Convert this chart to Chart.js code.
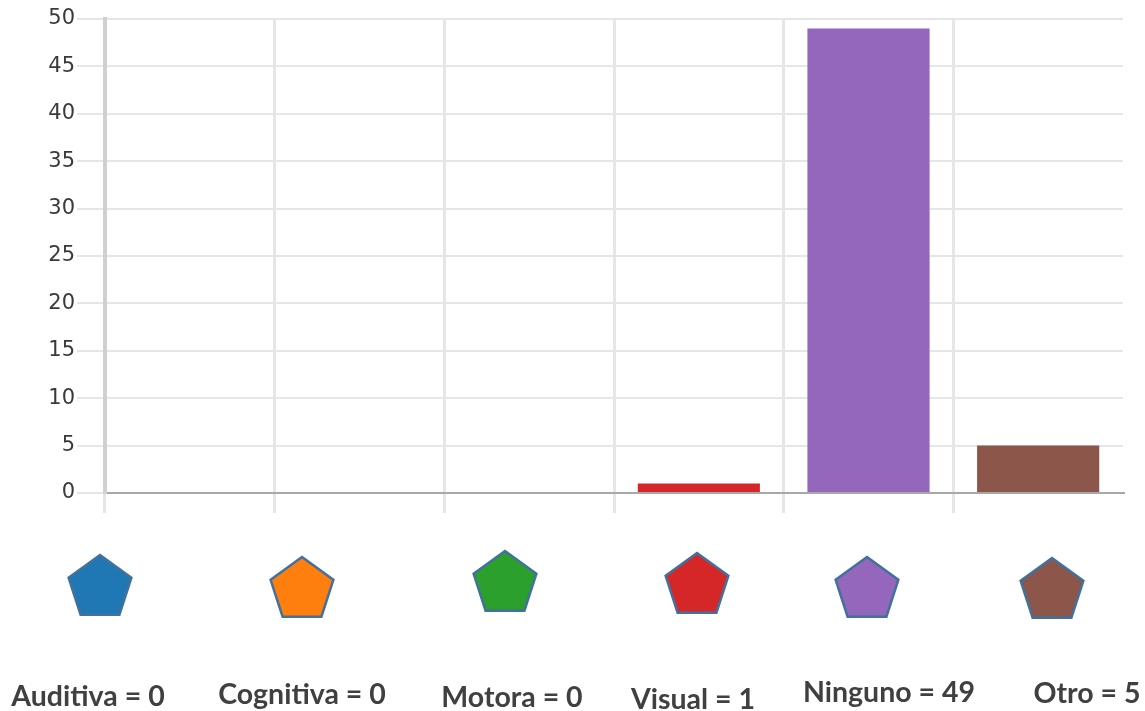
<!DOCTYPE html>
<html>
<head>
<meta charset="utf-8">
<script src="https://cdn.jsdelivr.net/npm/chart.js@4"></script>
<style>
  html, body { margin: 0; padding: 0; background: #fff; }
  #wrap { position: relative; width: 1145px; height: 711px; }
</style>
</head>
<body>
<div id="wrap"><canvas id="chart" width="1145" height="711"></canvas></div>
<script>
// Data
const categories = ['Auditiva', 'Cognitiva', 'Motora', 'Visual', 'Ninguno', 'Otro'];
const counts = [0, 0, 0, 1, 49, 5];
const barColors = ['#1f77b4', '#ff7f0e', '#2ca02c', '#d62728', '#9467bd', '#8c564b'];

// Layout of the pentagons and captions under the chart (page layout, not data)
const shapeCenters = [100, 302, 505, 697, 867, 1052];
const shapeTops = [555, 557, 551, 553, 557, 558];
const captionCenters = [88, 302, 512, 693, 889, 1087];
const captionBaselines = [706, 704, 707, 709, 702, 703];

// Draws the pentagons and "name = value" captions below the axis
const legendShapes = {
    id: 'legendShapes',
    afterDraw(chart) {
        const ctx = chart.ctx;
        const R = 33;
        ctx.save();
        categories.forEach(function (name, i) {
            const cx = shapeCenters[i];
            const cy = shapeTops[i] + R;
            ctx.beginPath();
            for (let k = 0; k < 5; k++) {
                const a = -Math.PI / 2 + k * 2 * Math.PI / 5;
                const px = cx + R * Math.cos(a);
                const py = cy + R * Math.sin(a);
                if (k === 0) ctx.moveTo(px, py); else ctx.lineTo(px, py);
            }
            ctx.closePath();
            ctx.fillStyle = barColors[i];
            ctx.fill();
            ctx.lineWidth = 2.5;
            ctx.strokeStyle = '#41719c';
            ctx.stroke();

            ctx.fillStyle = '#404040';
            ctx.font = 'bold 28.5px Lato';
            ctx.textAlign = 'center';
            ctx.textBaseline = 'alphabetic';
            ctx.fillText(name + ' = ' + counts[i], captionCenters[i], captionBaselines[i]);
        });
        ctx.restore();
    }
};

var ctx = document.getElementById('chart').getContext('2d');
new Chart(ctx, {
    type: 'bar',
    data: {
        labels: categories,
        datasets: [{
            data: counts,
            backgroundColor: barColors,
            borderWidth: 0,
            barPercentage: 0.72,
            categoryPercentage: 1.0
        }]
    },
    options: {
        responsive: false,
        animation: false,
        devicePixelRatio: 1,
        layout: {
            padding: { top: 19, right: 22, bottom: 198, left: 0 }
        },
        plugins: {
            legend: { display: false },
            tooltip: { enabled: false }
        },
        scales: {
            x: {
                grid: {
                    offset: true,
                    color: function (c) { return c.tick ? '#e6e6e6' : 'rgba(0,0,0,0)'; },
                    lineWidth: 3,
                    tickLength: 20
                },
                border: { color: '#a8a8a8', width: 2 },
                ticks: { display: false }
            },
            y: {
                min: 0,
                max: 50,
                ticks: {
                    stepSize: 5,
                    padding: 2,
                    color: '#3a3a3a',
                    font: { family: 'DejaVu Sans', size: 21 }
                },
                grid: {
                    color: '#e6e6e6',
                    lineWidth: 2,
                    tickLength: 28
                },
                border: { color: '#d0d0d0', width: 4 },
                afterFit: function (scale) { scale.width = 105; }
            }
        }
    },
    plugins: [legendShapes]
});
</script>
</body>
</html>
